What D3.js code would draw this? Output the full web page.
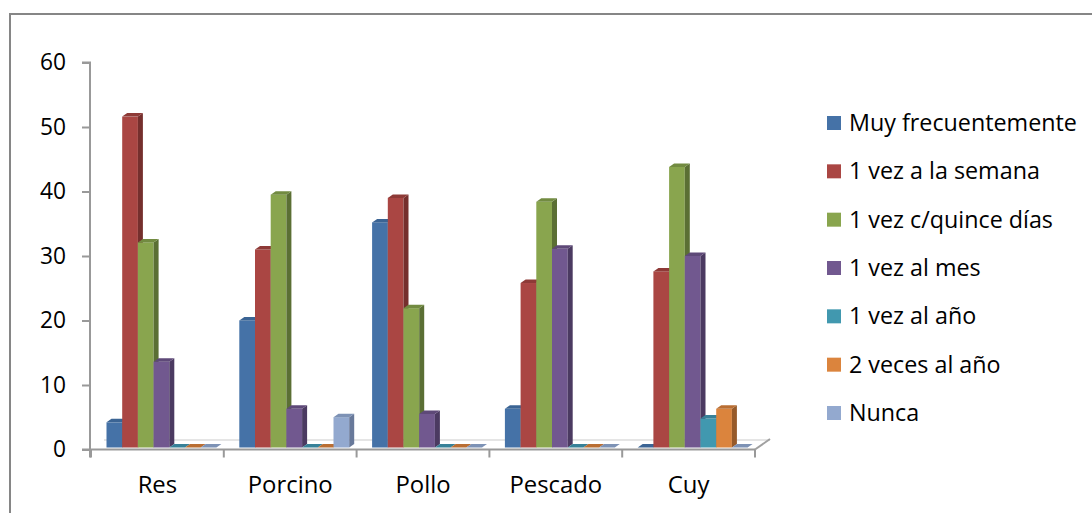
<!DOCTYPE html>
<html>
<head>
<meta charset="utf-8">
<script src="https://cdn.jsdelivr.net/npm/d3@7"></script>
<style>
  html, body { margin: 0; padding: 0; background: #fff; }
  svg { display: block; }
</style>
</head>
<body>
<svg id="chart" width="1092" height="513"></svg>
<script>
// Meat types and how often each is eaten (%)
const categories = ["Res", "Porcino", "Pollo", "Pescado", "Cuy"];
const seriesNames = ["Muy frecuentemente", "1 vez a la semana", "1 vez c/quince días",
                     "1 vez al mes", "1 vez al año", "2 veces al año", "Nunca"];
const muyFrecuentemente = [3.9, 19.7, 34.9, 6.0, 0];
const unaVezSemana      = [51.3, 30.7, 38.7, 25.5, 27.3];
const unaVezQuince      = [31.8, 39.2, 21.6, 38.1, 43.5];
const unaVezMes         = [13.3, 6.0, 5.2, 30.8, 29.7];
const unaVezAno         = [0, 0, 0, 0, 4.5];
const dosVecesAno       = [0, 0, 0, 0, 6.0];
const nunca             = [0, 4.7, 0, 0, 0];
const yTicks = [0, 10, 20, 30, 40, 50, 60];

const seriesValues = [muyFrecuentemente, unaVezSemana, unaVezQuince, unaVezMes,
                      unaVezAno, dosVecesAno, nunca];

// face shades: front, top, side
const frontCol = ["#4572A7", "#AA4643", "#89A54E", "#71588F", "#4198AF", "#DB843D", "#93A9CF"];
const topCol   = ["#3b6494", "#8e3a37", "#728b41", "#5e4978", "#378198", "#b96e33", "#7d92b5"];
const sideCol  = ["#2f5079", "#752f2d", "#5b6f34", "#4b3a61", "#2d6a7e", "#965a2a", "#68799a"];

const FONT = "'Open Sans', Lato, sans-serif";
const svg = d3.select("#chart");

// scale a group of labels so that a reference label spans the wanted width
function fitFont(sel, refText, width) {
  sel.style("font-size", "20px");
  let len = 0;
  sel.each(function () { if (this.textContent === refText) len = this.getComputedTextLength(); });
  if (len > 0) sel.style("font-size", (20 * width / len).toFixed(2) + "px");
}

// outer chart frame
svg.append("rect")
  .attr("x", 10).attr("y", 14)
  .attr("width", 1200).attr("height", 600)
  .attr("fill", "#fff").attr("stroke", "#868686").attr("stroke-width", 2);

// scales
const y = d3.scaleLinear().domain([0, 60]).range([449.5, 62.5]);
const x = d3.scaleBand().domain(categories).range([91, 755]).padding(0);
const xs = d3.scaleBand().domain(d3.range(seriesNames.length))
  .range([15, 15 + 7 * 15.7]).padding(0);

// depth of the bars and floor
const dx = 5, dy = 3.5;
const barBase = 2;           // bars sit slightly back from the front edge
const floorDx = 15, floorDy = 10.5;

// floor plate
const x0 = x.range()[0], x1 = x.range()[1], yf = y(0);
svg.append("path")
  .attr("d", `M${x0},${yf}L${x1},${yf}L${x1 + floorDx},${yf - floorDy}L${x0 + floorDx},${yf - floorDy}Z`)
  .attr("fill", "#fff").attr("stroke", "none");
svg.append("line")
  .attr("x1", x0 + floorDx - 2).attr("x2", x1 + floorDx)
  .attr("y1", yf - floorDy + 1).attr("y2", yf - floorDy + 1)
  .attr("stroke", "#dcdcdc").attr("stroke-width", 1.5);
svg.append("line")
  .attr("x1", x1).attr("x2", x1 + floorDx)
  .attr("y1", yf).attr("y2", yf - floorDy)
  .attr("stroke", "#a0a0a0").attr("stroke-width", 2);

// bars
const bars = svg.append("g");
categories.forEach((cat, ci) => {
  seriesValues.forEach((vals, si) => {
    const v = vals[ci];
    const bx0 = x(cat) + xs(si) + 0.5;
    const bx1 = bx0 + xs.bandwidth();
    const yb = y(0) - barBase;
    const yt = y(v) - barBase;
    const g = bars.append("g");
    if (yb - yt > 0) {
      // front face
      g.append("rect")
        .attr("x", bx0).attr("y", yt)
        .attr("width", bx1 - bx0).attr("height", yb - yt)
        .attr("fill", frontCol[si]);
      // side face
      g.append("path")
        .attr("d", `M${bx1},${yt}L${bx1 + dx},${yt - dy}L${bx1 + dx},${yb - dy}L${bx1},${yb}Z`)
        .attr("fill", sideCol[si]);
    }
    // top face
    g.append("path")
      .attr("d", `M${bx0},${yt}L${bx1},${yt}L${bx1 + dx},${yt - dy}L${bx0 + dx},${yt - dy}Z`)
      .attr("fill", topCol[si]);
  });
});

// front edge of the category axis
svg.append("line")
  .attr("x1", 82).attr("x2", x1)
  .attr("y1", yf).attr("y2", yf)
  .attr("stroke", "#999").attr("stroke-width", 2);

// category axis ticks and labels
const xAxis = d3.axisBottom(x).tickSize(0).tickFormat(d => d);
const gx = svg.append("g").attr("transform", `translate(0,${yf})`).call(xAxis);
gx.attr("font-family", null).attr("font-size", null);
gx.select(".domain").remove();
const xLabels = gx.selectAll("text")
  .attr("dy", null).attr("y", 43)
  .style("font-family", FONT).attr("fill", "#000");
fitFont(xLabels, "Porcino", 85);
const boundaries = categories.map(c => x(c)).concat([x1]);
svg.selectAll(".ctick").data(boundaries).join("line")
  .attr("class", "ctick")
  .attr("x1", d => d).attr("x2", d => d)
  .attr("y1", yf).attr("y2", yf + 8)
  .attr("stroke", "#999").attr("stroke-width", 2);

// value axis
const yAxis = d3.axisLeft(y).tickValues(yTicks).tickSize(8).tickPadding(16);
const gy = svg.append("g").attr("transform", "translate(90,0)").call(yAxis);
gy.attr("font-family", null).attr("font-size", null);
gy.select(".domain").attr("stroke", "#999").attr("stroke-width", 2)
  .attr("d", `M-8,${y(60)}H0V${yf + 8}`);
gy.selectAll(".tick line").attr("stroke", "#999").attr("stroke-width", 2);
const yLabels = gy.selectAll(".tick text")
  .style("font-family", FONT).attr("fill", "#000");
fitFont(yLabels, "60", 26);

// legend
const legend = svg.append("g");
const legY = d3.scalePoint().domain(seriesNames).range([123, 413]);
seriesNames.forEach((name, i) => {
  legend.append("rect")
    .attr("x", 827).attr("y", legY(name) - 7)
    .attr("width", 14).attr("height", 14)
    .attr("fill", frontCol[i]);
  legend.append("text")
    .attr("x", 849).attr("y", legY(name) + 8)
    .style("font-family", FONT).attr("fill", "#000")
    .text(name);
});
fitFont(legend.selectAll("text"), "Muy frecuentemente", 228);
</script>
</body>
</html>
